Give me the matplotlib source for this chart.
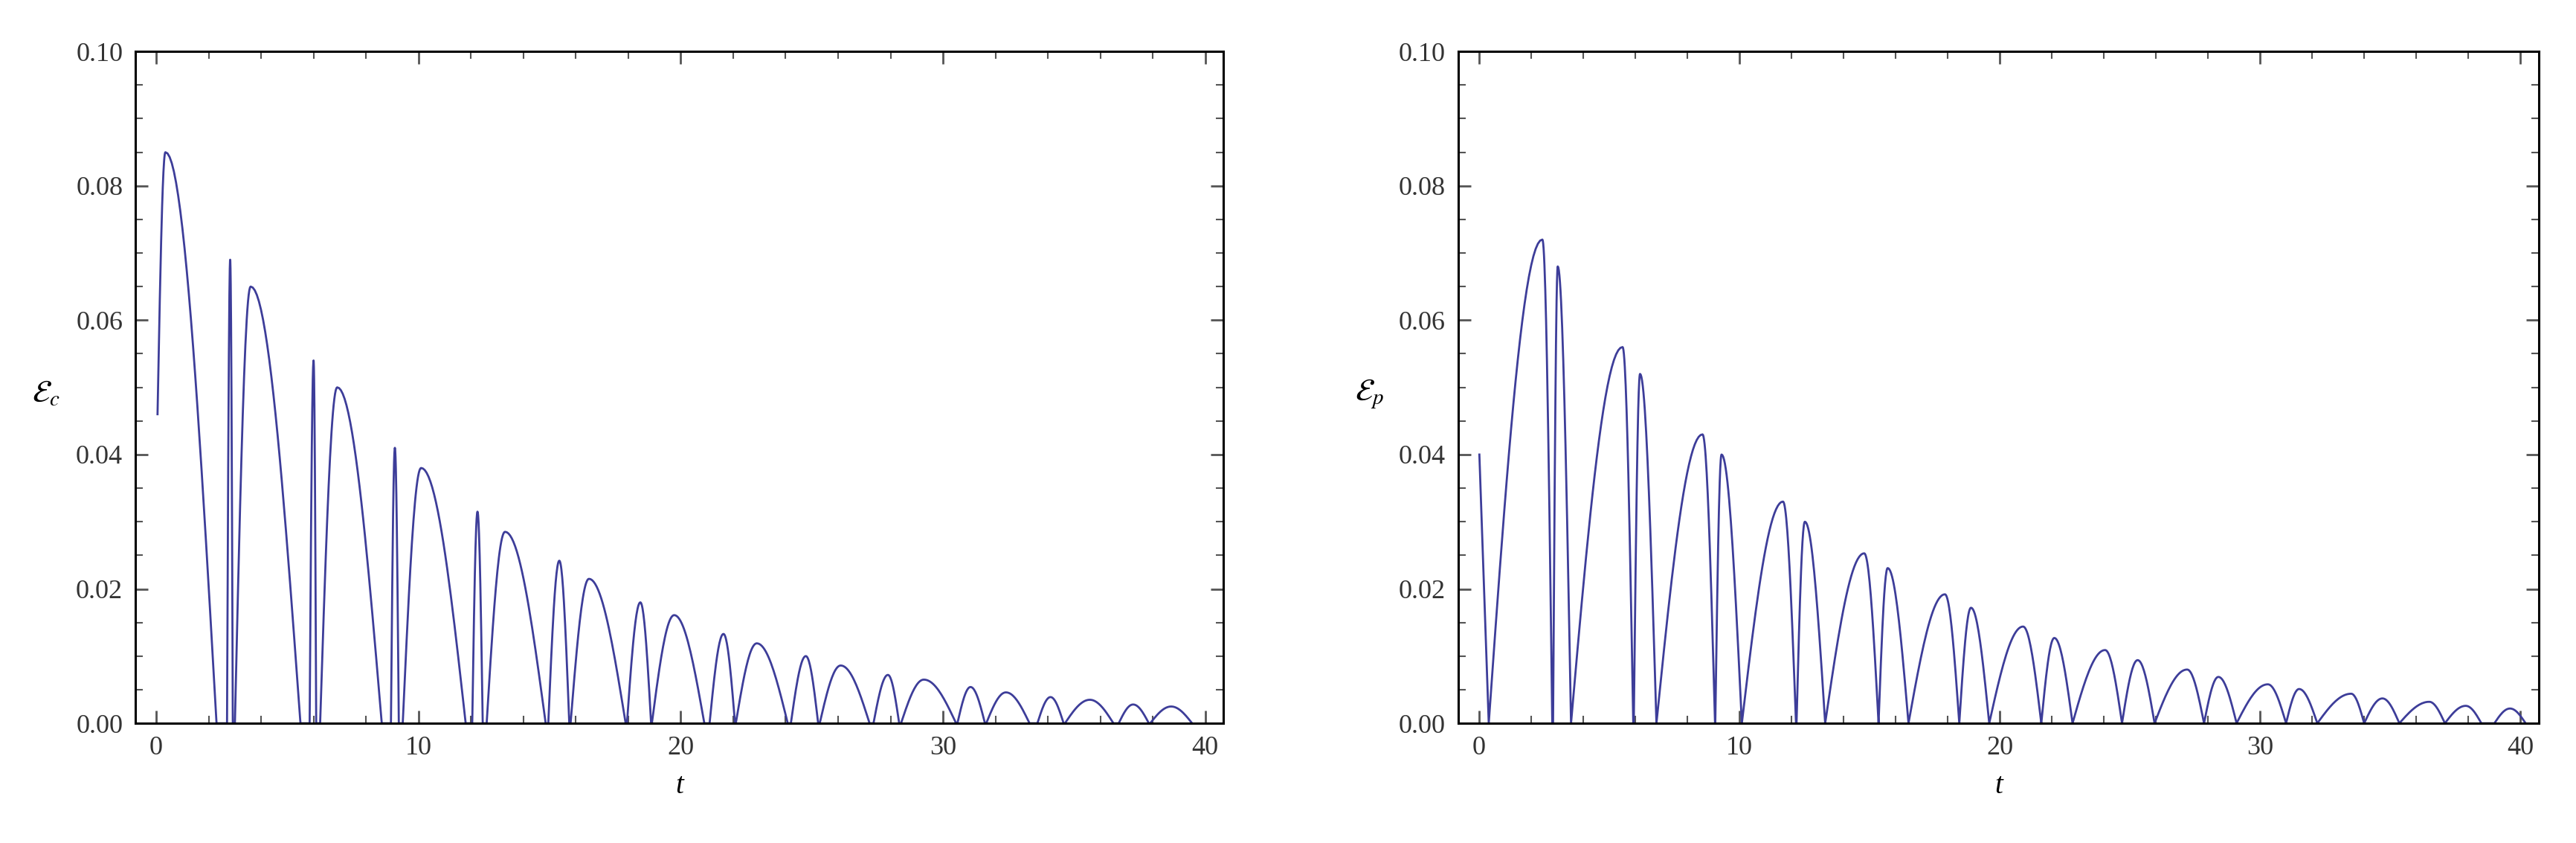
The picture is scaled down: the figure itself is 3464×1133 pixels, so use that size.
import numpy as np
import matplotlib
matplotlib.use("Agg")
import matplotlib.pyplot as plt
from matplotlib.ticker import MultipleLocator

# ---- data: humps (zero start, peak t, peak value, zero end)
ec_start = (0.05, 0.046)
ec_humps = [
    (0.05, 0.35, 0.085, 2.3), (2.7, 2.82, 0.069, 2.92), (3.0, 3.6, 0.065, 5.5),
    (5.85, 6.0, 0.054, 6.1), (6.25, 6.9, 0.050, 8.6), (8.95, 9.1, 0.041, 9.25),
    (9.4, 10.1, 0.038, 11.8), (12.05, 12.25, 0.0315, 12.45), (12.6, 13.3, 0.0285, 14.85),
    (14.95, 15.37, 0.0242, 15.75), (15.8, 16.5, 0.0215, 17.9), (17.95, 18.46, 0.018, 18.87),
    (18.9, 19.75, 0.0161, 20.9), (21.1, 21.63, 0.0133, 22.07), (22.1, 22.9, 0.0119, 24.08),
    (24.2, 24.77, 0.0100, 25.24), (25.3, 26.1, 0.0086, 27.2), (27.35, 27.9, 0.0072, 28.33),
    (28.4, 29.27, 0.0065, 30.5), (30.55, 31.05, 0.0054, 31.6), (31.65, 32.4, 0.0046, 33.3),
    (33.6, 34.1, 0.0039, 34.6), (34.65, 35.6, 0.0035, 36.5), (36.7, 37.25, 0.0028, 37.85),
    (37.9, 38.7, 0.0025, 39.5),
]
ep_start = [(0.02, 0.040), (0.38, 0.0)]
ep_humps = [
    (0.38, 2.44, 0.072, 2.82), (2.85, 3.03, 0.068, 3.54), (3.54, 5.52, 0.056, 5.93),
    (5.95, 6.19, 0.052, 6.82), (6.82, 8.59, 0.043, 9.07), (9.08, 9.32, 0.040, 10.1),
    (10.1, 11.68, 0.033, 12.18), (12.2, 12.52, 0.030, 13.3), (13.3, 14.8, 0.0253, 15.35),
    (15.35, 15.7, 0.0231, 16.5), (16.5, 17.9, 0.0192, 18.45), (18.45, 18.9, 0.0172, 19.6),
    (19.6, 20.9, 0.0144, 21.6), (21.6, 22.1, 0.0127, 22.8), (22.8, 24.05, 0.0109, 24.7),
    (24.7, 25.3, 0.0094, 25.95), (25.95, 27.2, 0.0080, 27.85), (27.85, 28.4, 0.0069, 29.1),
    (29.1, 30.3, 0.0058, 31.0), (31.0, 31.5, 0.0051, 32.2), (32.2, 33.5, 0.0044, 34.0),
    (34.0, 34.7, 0.0037, 35.35), (35.35, 36.5, 0.0032, 37.1), (37.1, 37.9, 0.0026, 38.5),
    (39.0, 39.6, 0.0022, 40.2),
]
x_ticks = [0, 10, 20, 30, 40]
y_ticks = [0.00, 0.02, 0.04, 0.06, 0.08, 0.10]
y_labels = [r'$\mathcal{E}_c$', r'$\mathcal{E}_p$']

COLOR = '#3d3d99'


def build(humps, lead=None, y0=None):
    ts, ys = [], []
    if lead:
        for t, v in lead:
            ts.append(t); ys.append(v)
    for i, (a, p, h, b) in enumerate(humps):
        base = y0 if (i == 0 and y0 is not None) else 0.0
        u = np.linspace(0, 1, 25)
        ts += list(a + (p - a) * u); ys += list(base + (h - base) * np.sin(np.pi / 2 * u))
        ts += list(p + (b - p) * u[1:]); ys += list(h * np.cos(np.pi / 2 * u[1:]))
    return np.array(ts), np.array(ys)


plt.rcParams['font.family'] = ['Liberation Serif', 'DejaVu Serif']
plt.rcParams['mathtext.fontset'] = 'stix'
fig = plt.figure(figsize=(34.64, 11.33), dpi=100)
ax1 = fig.add_axes([0.0525, 0.142, 0.4225, 0.797])
ax2 = fig.add_axes([0.566, 0.142, 0.4195, 0.797])

series = [build(ec_humps, y0=ec_start[1]), build(ep_humps, lead=ep_start)]
for ax, (t, y), lab in zip([ax1, ax2], series, y_labels):
    ax.plot(t, y, color=COLOR, lw=2.0, clip_on=True)
    ax.set_xlim(-0.8, 40.7)
    ax.set_ylim(0, 0.1)
    ax.set_xticks(x_ticks)
    ax.set_yticks(y_ticks)
    ax.set_yticklabels([f'{v:.2f}' for v in y_ticks])
    ax.xaxis.set_minor_locator(MultipleLocator(2))
    ax.yaxis.set_minor_locator(MultipleLocator(0.005))
    ax.tick_params(which='both', direction='in', top=True, right=True,
                   labelsize=26, labelcolor='#333333', color='#555555')
    ax.tick_params(which='major', length=12, width=2, pad=12)
    ax.tick_params(which='minor', length=7, width=1.5)
    for s in ax.spines.values():
        s.set_linewidth(2.2)
    ax.text(-0.082, 0.49, lab, transform=ax.transAxes, fontsize=30,
            ha='center', va='center')
    ax.set_xlabel('t', fontsize=28, style='italic', labelpad=12)

fig.savefig('out.png', dpi=100)
